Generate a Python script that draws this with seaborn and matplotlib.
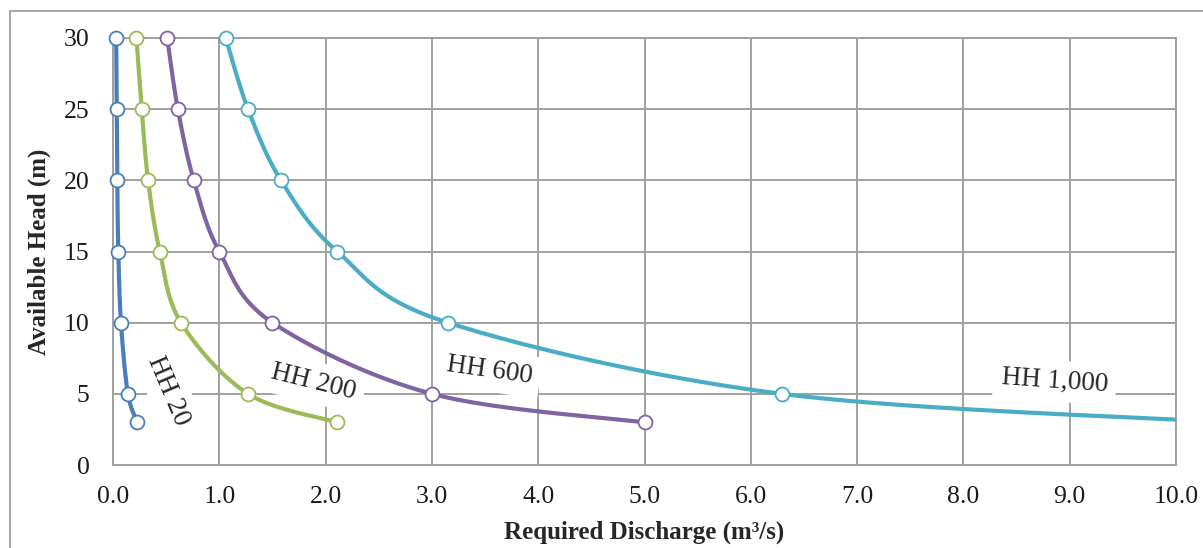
import numpy as np
import pandas as pd
import matplotlib
matplotlib.use("Agg")
import matplotlib.pyplot as plt
import seaborn as sns
from matplotlib.lines import Line2D

# ---- data ----
heads = [30, 25, 20, 15, 10, 5, 3]
hh20 = [0.03, 0.035, 0.04, 0.05, 0.075, 0.14, 0.23]
hh200 = [0.22, 0.27, 0.33, 0.44, 0.64, 1.27, 2.11]
hh600 = [0.51, 0.61, 0.76, 1.00, 1.50, 3.00, 5.00]
hh1000 = [1.06, 1.27, 1.58, 2.11, 3.15, 6.29, 10.5]
series_names = ["HH 20", "HH 200", "HH 600", "HH 1,000"]
colors = ["#4a7ebb", "#9bbb59", "#8064a2", "#4bacc6"]
x_ticks = [0, 1, 2, 3, 4, 5, 6, 7, 8, 9, 10]
y_ticks = [0, 5, 10, 15, 20, 25, 30]


def smooth(xs, ys, n=40):
    """Excel-like smoothed line (Catmull-Rom Bezier) through the points."""
    P = np.column_stack([xs, ys]).astype(float)
    Pp = np.vstack([P[0], P, P[-1]])
    out = []
    t = np.linspace(0, 1, n)[:, None]
    for i in range(1, len(Pp) - 2):
        p0, p1, p2, p3 = Pp[i - 1], Pp[i], Pp[i + 1], Pp[i + 2]
        c1 = p1 + (p2 - p0) / 6
        c2 = p2 - (p3 - p1) / 6
        seg = ((1 - t) ** 3) * p1 + 3 * ((1 - t) ** 2) * t * c1 + 3 * (1 - t) * t ** 2 * c2 + t ** 3 * p2
        out.append(seg if i == 1 else seg[1:])
    out = np.vstack(out)
    return out[:, 0], out[:, 1]


sns.set_style("white")
plt.rcParams["font.family"] = ["Liberation Serif", "DejaVu Serif"]

fig = plt.figure(figsize=(12.03, 5.48), dpi=100)
ax = fig.add_axes([113 / 1203, 1 - 465 / 548, (1176 - 113) / 1203, (465 - 38) / 548])

grid_c = "#a0a0a0"
all_q = [hh20, hh200, hh600, hh1000]
rows = []
for name, q in zip(series_names, all_q):
    sx, sy = smooth(q, heads)
    for k, (a, b) in enumerate(zip(sx, sy)):
        rows.append({"series": name, "order": k, "Q": a, "H": b})
curves = pd.DataFrame(rows)

sns.lineplot(data=curves, x="Q", y="H", hue="series", palette=dict(zip(series_names, colors)),
             sort=False, estimator=None, units="series", lw=3.0, ax=ax, legend=False, zorder=3)

for name, q, c in zip(series_names, all_q, colors):
    pts = pd.DataFrame({"Q": [v for v in q if v <= 10], "H": [h for v, h in zip(q, heads) if v <= 10]})
    sns.scatterplot(data=pts, x="Q", y="H", color="white", edgecolor=c, linewidth=1.3,
                    s=100, ax=ax, zorder=4, legend=False)
for coll in ax.collections:
    coll.set_clip_on(False)

ax.set_xlim(0, 10)
ax.set_ylim(0, 30)
ax.set_xticks(x_ticks)
ax.set_xticklabels([f"{v:.1f}" for v in x_ticks])
ax.set_yticks(y_ticks)
ax.grid(True, color=grid_c, lw=1.4)
ax.set_axisbelow(True)
for s in ax.spines.values():
    s.set_color(grid_c)
    s.set_linewidth(1.4)
ax.tick_params(axis="both", direction="out", length=5, width=1.4, color=grid_c,
               labelsize=18.5, labelcolor="#1a1a1a")
ax.tick_params(axis="y", pad=12)
ax.tick_params(axis="x", pad=10)

ax.set_xlabel("Required Discharge (m³/s)", fontsize=18, fontweight="bold", labelpad=9)
ax.set_ylabel("Available Head (m)", fontsize=18, fontweight="bold", labelpad=9)

box = dict(boxstyle="square,pad=0.3", fc="white", ec="none")
ax.text(0.52, 5.2, "HH 20", rotation=-67, ha="center", va="center", fontsize=19.5, bbox=box, zorder=5)
ax.text(1.89, 5.8, "HH 200", rotation=-14, ha="center", va="center", fontsize=19.5, bbox=box, zorder=5)
ax.text(3.54, 6.6, "HH 600", rotation=-8, ha="center", va="center", fontsize=19.5, bbox=box, zorder=5)
ax.text(8.86, 5.9, "HH 1,000", rotation=-4, ha="center", va="center", fontsize=19.5, bbox=box, zorder=5)

# outer chart border
bx = 10 / 1203
by = 1 - 11 / 548
fig.add_artist(Line2D([bx, 1.0], [by, by], transform=fig.transFigure, color="#a6a6a6", lw=1.4))
fig.add_artist(Line2D([bx, bx], [0, by], transform=fig.transFigure, color="#a6a6a6", lw=1.4))

fig.savefig("out.png", dpi=100)
